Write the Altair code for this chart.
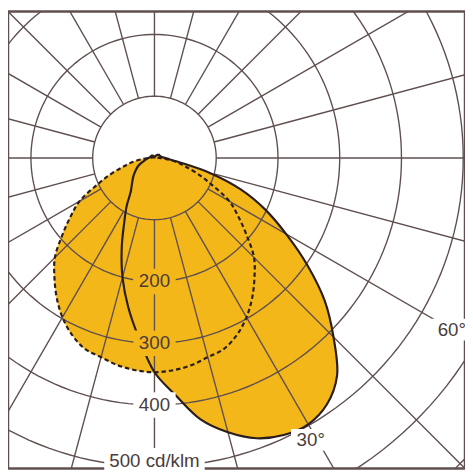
import math
import altair as alt
import pandas as pd

# ---------------- data (cd/klm, gamma in degrees, 0 = nadir, + = right) ----------
ANGLES = list(range(-180, 181, 5))
# solid curve (asymmetric plane)
SOLID = [2, 2, 2, 3, 3, 3, 4, 4, 5, 5, 6, 6, 6, 6, 7, 7, 7, 8,
         10, 12, 14, 17, 22, 28, 33, 38, 44, 50, 57, 67, 90, 116, 155, 200, 245, 292,
         347,
         385, 430, 460, 483, 495, 498, 487, 460, 410, 360, 302, 246, 198, 148, 91, 42, 24, 18,
         13, 11, 10, 10, 9, 9, 9, 8, 7, 6, 5, 4, 3, 3, 2, 2, 2]
# dashed curve (symmetric plane), gamma 0..180
DASHED_HALF = [347, 345, 341, 334, 329, 316, 298, 276, 252, 228, 195, 166, 140, 102, 74, 50, 35, 18,
               8, 5, 4, 3, 3, 3, 2, 2, 2, 2, 2, 2, 1, 1, 1, 1, 1, 1, 1]
RINGS = [100, 200, 300, 400, 500, 600, 700]
SPOKES = list(range(0, 360, 15))
RING_LABELS = ["200", "300", "400", "500 cd/klm"]
RING_LABEL_VALUES = [200, 300, 400, 500]
ANGLE_LABELS = ["30°", "60°"]
ANGLE_LABEL_VALUES = [30, 60]

# ---------------- styling / geometry ----------------
W = H = 464
CX = CY = 148.7          # pole position in plot pixels
PX = 0.627               # pixels per cd/klm
K = 1 / PX
ORANGE = "#F4B71A"
GRID = "#5f4f4f"
DARK = "#2a1d1d"
TEXT = "#4a3c3c"
FONT = "Liberation Sans"
INTERP = "catmull-rom"

xs = alt.Scale(domain=[-CX * K, (W - CX) * K], nice=False, zero=False)
ys = alt.Scale(domain=[-CY * K, (H - CY) * K], nice=False, zero=False, reverse=True)


def pol(r, g):
    a = math.radians(g)
    return r * math.sin(a), r * math.cos(a)


rows = []
for i, (g, v) in enumerate(zip(ANGLES, SOLID)):
    x, y = pol(v, g)
    rows.append({"curve": "solid", "i": i, "x": x, "y": y})
dashed_full = [DASHED_HALF[abs(g) // 5] for g in ANGLES]
for i, (g, v) in enumerate(zip(ANGLES, dashed_full)):
    x, y = pol(v, g)
    rows.append({"curve": "dashed", "i": i, "x": x, "y": y})
curves = pd.DataFrame(rows)

ring_rows = []
for r in RINGS:
    for j, g in enumerate(range(0, 361, 2)):
        x, y = pol(r, g)
        ring_rows.append({"ring": r, "i": j, "x": x, "y": y})
rings = pd.DataFrame(ring_rows)

spoke_rows = []
for g in SPOKES:
    x1, y1 = pol(RINGS[0], g)
    x2, y2 = pol(1000, g)
    spoke_rows.append({"x": x1, "y": y1, "x2": x2, "y2": y2})
spokes = pd.DataFrame(spoke_rows)

lab_rows = []
for t, v in zip(RING_LABELS, RING_LABEL_VALUES):
    r = v if v < 500 else v - 9
    x, y = pol(r, 0)
    lab_rows.append({"t": t, "x": x, "y": y,
                     "bg": ORANGE if v <= 300 else "white",
                     "shape": "wide" if v >= 500 else "box"})
for t, v, rr, da in zip(ANGLE_LABELS, ANGLE_LABEL_VALUES, [522, 556], [-1, 0]):
    x, y = pol(rr, v + da)
    lab_rows.append({"t": t, "x": x, "y": y, "bg": "white", "shape": "deg"})
labels = pd.DataFrame(lab_rows)

X = alt.X("x:Q", scale=xs, axis=None)
Y = alt.Y("y:Q", scale=ys, axis=None)

fill = alt.Chart(curves).mark_line(fill=ORANGE, stroke=ORANGE, strokeWidth=0.5, clip=True,
                                   interpolate=INTERP).encode(
    x=X, y=Y, detail="curve:N", order="i:Q")

ring_layer = alt.Chart(rings).mark_line(stroke=GRID, strokeWidth=1.4, clip=True).encode(
    x=X, y=Y, detail="ring:N", order="i:Q")

spoke_layer = alt.Chart(spokes).mark_rule(stroke=GRID, strokeWidth=1.4, clip=True).encode(
    x=X, y=Y, x2="x2:Q", y2="y2:Q")

solid_line = alt.Chart(curves[curves.curve == "solid"]).mark_line(
    stroke=DARK, strokeWidth=2.2, clip=True, interpolate=INTERP).encode(x=X, y=Y, order="i:Q")
dashed_line = alt.Chart(curves[curves.curve == "dashed"]).mark_line(
    stroke=DARK, strokeWidth=2.2, strokeDash=[4.5, 3], clip=True, interpolate=INTERP).encode(
    x=X, y=Y, order="i:Q")

box = alt.Chart(labels[labels["shape"] == "box"]).mark_point(
    shape="M-1,-0.6L1,-0.6L1,0.6L-1,0.6Z", size=1849, filled=True, opacity=1, strokeWidth=0).encode(
    x=X, y=Y, fill=alt.Fill("bg:N", scale=None))
wide = alt.Chart(labels[labels["shape"] == "wide"]).mark_point(
    shape="M-1,-0.26L1,-0.26L1,0.26L-1,0.26Z", size=10404, filled=True, opacity=1, strokeWidth=0).encode(
    x=X, y=Y, fill=alt.Fill("bg:N", scale=None))
deg = alt.Chart(labels[labels["shape"] == "deg"]).mark_point(
    shape="M-1,-0.55L1,-0.55L1,0.55L-1,0.55Z", size=1600, filled=True, opacity=1, strokeWidth=0).encode(
    x=X, y=Y, fill=alt.Fill("bg:N", scale=None))

text = alt.Chart(labels).mark_text(font=FONT, fontSize=19, color=TEXT, align="center",
                                    baseline="middle").encode(x=X, y=Y, text="t:N")

chart = alt.layer(fill, ring_layer, spoke_layer, solid_line, dashed_line, box, wide, deg, text).properties(
    width=W, height=H, padding=0, autosize="none", background="white"
).configure_view(stroke=GRID, strokeWidth=2.5)

chart.save("out.html", embed_options={"renderer": "svg", "actions": False})
